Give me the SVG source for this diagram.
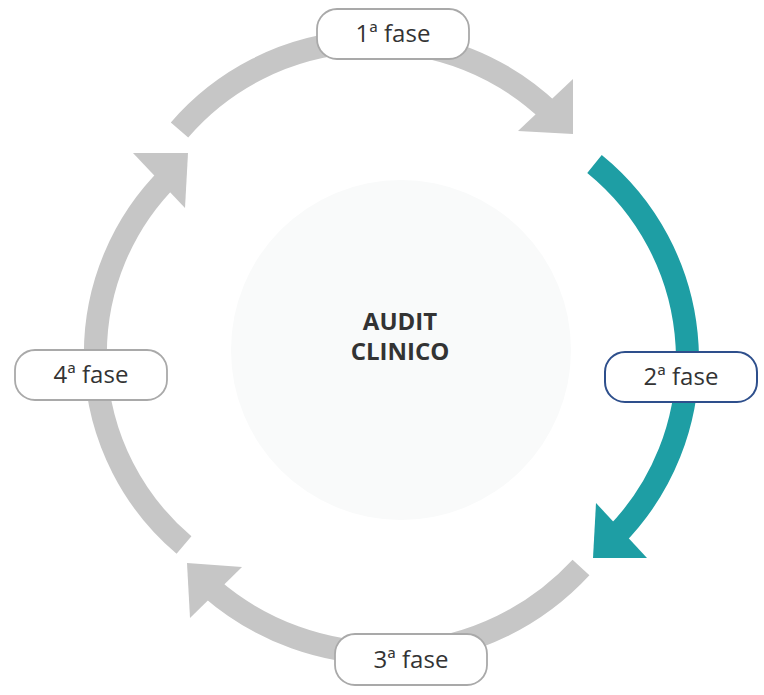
<svg xmlns="http://www.w3.org/2000/svg" width="764" height="695" viewBox="0 0 764 695">
  <style>
    .shaft { fill: none; stroke-width: 23; stroke-linecap: butt; }
    .gray { stroke: #c6c6c6; }
    .grayhead { fill: #c6c6c6; }
    .teal { stroke: #1e9ea4; }
    .tealhead { fill: #1e9ea4; }
    .box { fill: #ffffff; stroke: #a9a9a9; stroke-width: 1.8; }
    .box2 { fill: #ffffff; stroke: #2e4f8c; stroke-width: 2; }
    .lbl { font-family: "Open Sans", "Noto Sans", "Liberation Sans", sans-serif; font-size: 24px; fill: #333333; text-anchor: middle; }
    .title { font-family: "Open Sans", "Noto Sans", "Liberation Sans", sans-serif; font-size: 24px; font-weight: bold; fill: #333333; text-anchor: middle; }
  </style>
  <rect x="0" y="0" width="764" height="695" fill="#ffffff"/>
  <g id="center">
    <circle cx="401" cy="350" r="170" fill="#f9fafa"/>
    <text class="title" x="400" y="330">AUDIT</text>
    <text class="title" x="400" y="360">CLINICO</text>
  </g>
  <g id="connectors">
    <path class="shaft gray" d="M179.5,130 A256,256 0 0 1 550.8,112.9"/>
    <polygon class="grayhead" points="573,79 573,134 518,131"/>
    <path class="shaft teal" d="M594.5,164 A252,252 0 0 1 615.2,536.1"/>
    <polygon class="tealhead" points="596,503 593,558 647,558"/>
    <path class="shaft gray" d="M581,567.5 A266.5,266.5 0 0 1 210.5,587.7"/>
    <polygon class="grayhead" points="187,563 242,567 190,618"/>
    <path class="shaft gray" d="M184,545 A250,250 0 0 1 170.2,175.7"/>
    <polygon class="grayhead" points="133,153 188,153 185,208"/>
  </g>
  <g id="fase1">
    <rect class="box" x="317" y="9" width="152" height="50" rx="20"/>
    <text class="lbl" x="393" y="42">1ª fase</text>
  </g>
  <g id="fase2">
    <rect class="box2" x="605" y="352" width="152" height="50" rx="20"/>
    <text class="lbl" x="681" y="385">2ª fase</text>
  </g>
  <g id="fase3">
    <rect class="box" x="335" y="634" width="152" height="51" rx="20"/>
    <text class="lbl" x="411" y="668">3ª fase</text>
  </g>
  <g id="fase4">
    <rect class="box" x="15" y="350" width="152" height="50" rx="20"/>
    <text class="lbl" x="91" y="383">4ª fase</text>
  </g>
</svg>
